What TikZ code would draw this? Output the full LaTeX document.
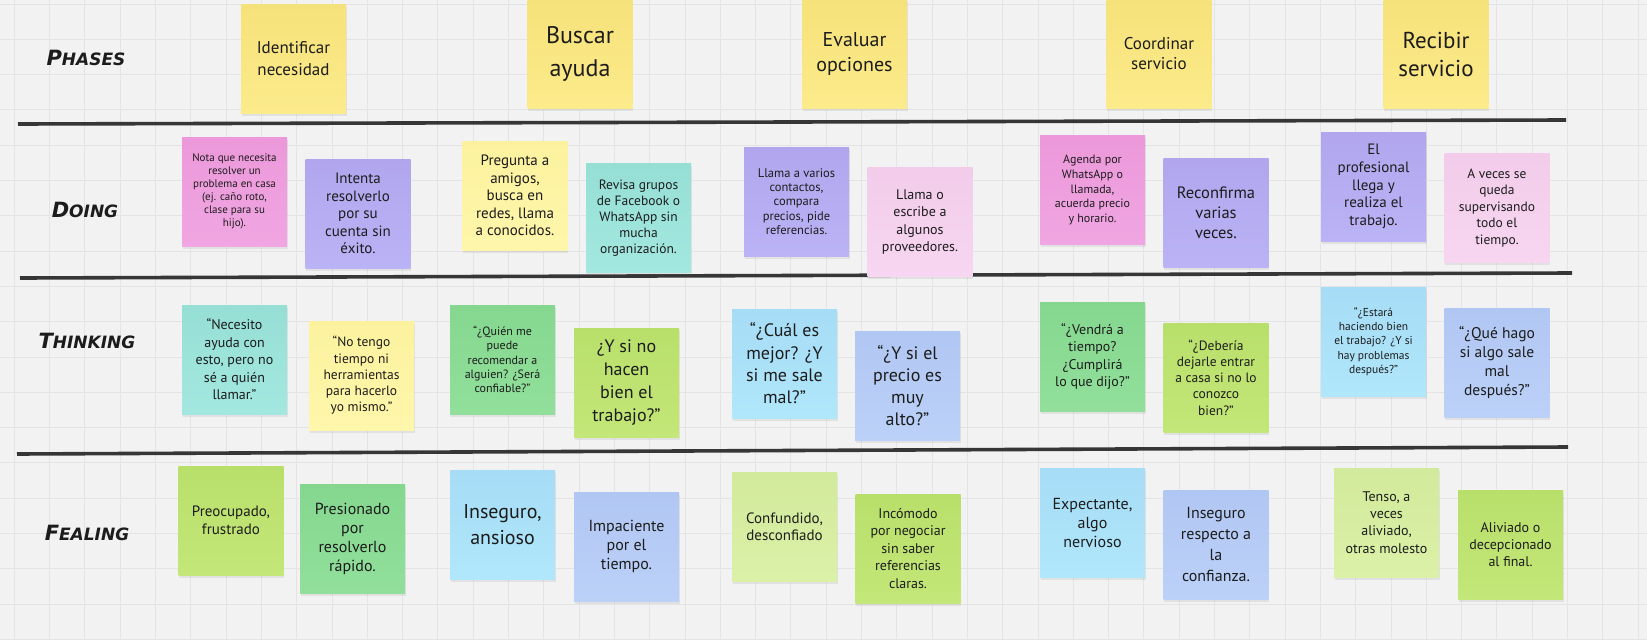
\documentclass[tikz,border=0pt]{standalone}
\usepackage{fontspec}
\setmainfont{PT Sans}
\newfontfamily\labelFont{DejaVu Sans}
\usetikzlibrary{shadows}

\definecolor{bgGray}{HTML}{F2F2F2}
\definecolor{gridGray}{HTML}{E4E4E4}
\definecolor{sepGray}{HTML}{363636}
\definecolor{inkDark}{HTML}{1C1C1C}
\definecolor{yellowTop}{HTML}{F6E27A}\definecolor{yellowBot}{HTML}{FCEB8B}
\definecolor{lightyellowTop}{HTML}{FCF29E}\definecolor{lightyellowBot}{HTML}{FEF6AB}
\definecolor{pinkTop}{HTML}{EC98DA}\definecolor{pinkBot}{HTML}{F0A6E2}
\definecolor{lightpinkTop}{HTML}{F2CCEA}\definecolor{lightpinkBot}{HTML}{F7D6F1}
\definecolor{purpleTop}{HTML}{B1A6EE}\definecolor{purpleBot}{HTML}{BAB3F5}
\definecolor{tealTop}{HTML}{96DFD5}\definecolor{tealBot}{HTML}{A3E8E0}
\definecolor{greenTop}{HTML}{85D78F}\definecolor{greenBot}{HTML}{91DF9B}
\definecolor{limeTop}{HTML}{B9DF6B}\definecolor{limeBot}{HTML}{C3E778}
\definecolor{palelimeTop}{HTML}{D2EA9B}\definecolor{palelimeBot}{HTML}{DBF1A8}
\definecolor{lightblueTop}{HTML}{A6DCF5}\definecolor{lightblueBot}{HTML}{B1E7FB}
\definecolor{blueTop}{HTML}{B1C7F3}\definecolor{blueBot}{HTML}{BBD1F8}

\tikzset{
    noteBox/.style={rectangle, minimum width=105pt, minimum height=109pt, inner sep=0pt, align=center, text=inkDark, drop shadow={shadow xshift=0.6pt, shadow yshift=-2.5pt, opacity=0.14}},
    rowLabel/.style={font=\labelFont\bfseries\itshape, text=inkDark, inner sep=0pt},
    sepLine/.style={draw=sepGray, line width=3.6pt},
    gridLine/.style={draw=gridGray, line width=0.9pt},
}
\newcommand{\drawNote}[6]{
    \node[noteBox, top color=#2Top, bottom color=#2Bot, font=\fontsize{#4}{#5}\selectfont] (#1) at (#3) {#6};
}
\newcommand{\rowName}[2]{{\fontsize{21}{21}\selectfont #1}{\fontsize{17}{17}\selectfont #2}}

\begin{document}
\begin{tikzpicture}[x=1pt, y=-1pt]

    \useasboundingbox (0,0) rectangle (1647,640);
    \fill[bgGray] (0,0) rectangle (1647,640);
    \foreach \i in {0,...,46} \draw[gridLine] (14.3+35.3*\i,0) -- (14.3+35.3*\i,640);
    \foreach \j in {0,...,18} \draw[gridLine] (0,4+35.3*\j) -- (1647,4+35.3*\j);

    % row separators
    \draw[sepLine] (18,124) -- (1566,120);
    \draw[sepLine] (20,278) -- (1572,273);
    \draw[sepLine] (17,454) -- (1568,447);

    % row labels
    \node[rowLabel] (lblPhases) at (86,58) {\rowName{P}{HASES}};
    \node[rowLabel] (lblDoing) at (85,210) {\rowName{D}{OING}};
    \node[rowLabel] (lblThinking) at (87,341) {\rowName{T}{HINKING}};
    \node[rowLabel] (lblFealing) at (87,533) {\rowName{F}{EALING}};

    % phases
    \drawNote{phIdent}{yellow}{293.5,58.5}{17}{22}{Identificar\\necesidad}
    \drawNote{phBuscar}{yellow}{580,54}{24}{33}{Buscar\\ayuda}
    \drawNote{phEval}{yellow}{854.5,54}{20}{25}{Evaluar\\opciones}
    \drawNote{phCoord}{yellow}{1159,54}{17}{20}{Coordinar\\servicio}
    \drawNote{phRecib}{yellow}{1436,54}{23}{28}{Recibir\\servicio}

    % doing
    \drawNote{doNota}{pink}{234.5,191.5}{11}{13}{Nota que necesita\\resolver un\\problema en casa\\(ej. caño roto,\\clase para su\\hijo).}
    \drawNote{doIntenta}{purple}{358,213.5}{15}{17.5}{Intenta\\resolverlo\\por su\\cuenta sin\\éxito.}
    \drawNote{doPregunta}{lightyellow}{515,195.5}{15}{17.5}{Pregunta a\\amigos,\\busca en\\redes, llama\\a conocidos.}
    \drawNote{doRevisa}{teal}{638.5,218}{13.5}{16}{Revisa grupos\\de Facebook o\\WhatsApp sin\\mucha\\organización.}
    \drawNote{doLlamaVarios}{purple}{796.5,201.5}{12.5}{14.3}{Llama a varios\\contactos,\\compara\\precios, pide\\referencias.}
    \drawNote{doLlamaO}{lightpink}{920,222}{14}{17.5}{Llama o\\escribe a\\algunos\\proveedores.}
    \drawNote{doAgenda}{pink}{1092.5,190}{12}{14.6}{Agenda por\\WhatsApp o\\llamada,\\acuerda precio\\y horario.}
    \drawNote{doReconf}{purple}{1216,212.5}{16.5}{20}{Reconfirma\\varias\\veces.}
    \drawNote{doProf}{purple}{1373.5,186.5}{15}{17.6}{El\\profesional\\llega y\\realiza el\\trabajo.}
    \drawNote{doSuperv}{lightpink}{1497,208}{13.5}{16.5}{A veces se\\queda\\supervisando\\todo el\\tiempo.}

    % thinking
    \drawNote{thNecesito}{teal}{234.5,359.5}{14}{17.5}{“Necesito\\ayuda con\\esto, pero no\\sé a quién\\llamar.”}
    \drawNote{thTiempo}{lightyellow}{361.5,375.5}{13.5}{16.3}{“No tengo\\tiempo ni\\herramientas\\para hacerlo\\yo mismo.”}
    \drawNote{thQuien}{green}{502.5,359.5}{12}{14.3}{“¿Quién me\\puede\\recomendar a\\alguien? ¿Será\\confiable?”}
    \drawNote{thHacen}{lime}{626.5,382.5}{18}{23.3}{¿Y si no\\hacen\\bien el\\trabajo?”}
    \drawNote{thCual}{lightblue}{784.5,363.5}{18}{22.3}{“¿Cuál es\\mejor? ¿Y\\si me sale\\mal?”}
    \drawNote{thPrecio}{blue}{907.5,386}{18}{22}{“¿Y si el\\precio es\\muy\\alto?”}
    \drawNote{thVendra}{green}{1092.5,356.5}{14}{17.6}{“¿Vendrá a\\tiempo?\\¿Cumplirá\\lo que dijo?”}
    \drawNote{thDeberia}{lime}{1216,377.5}{13.5}{16.3}{“¿Debería\\dejarle entrar\\a casa si no lo\\conozco\\bien?”}
    \drawNote{thEstara}{lightblue}{1373.5,341.5}{11.5}{14.3}{“¿Estará\\haciendo bien\\el trabajo? ¿Y si\\hay problemas\\después?”}
    \drawNote{thQueHago}{blue}{1497,363}{15.5}{19}{“¿Qué hago\\si algo sale\\mal\\después?”}

    % fealing
    \drawNote{fePreoc}{lime}{231,520.5}{15}{18.3}{Preocupado,\\frustrado}
    \drawNote{fePresion}{green}{352.5,538.5}{16}{19}{Presionado\\por\\resolverlo\\rápido.}
    \drawNote{feInseg}{lightblue}{502.5,524.5}{20}{26}{Inseguro,\\ansioso}
    \drawNote{feImpac}{blue}{626.5,546.5}{16}{18.7}{Impaciente\\por el\\tiempo.}
    \drawNote{feConf}{palelime}{784.5,526.5}{15}{16.7}{Confundido,\\desconfiado}
    \drawNote{feIncomodo}{lime}{908,548.5}{14}{17.5}{Incómodo\\por negociar\\sin saber\\referencias\\claras.}
    \drawNote{feExpect}{lightblue}{1092.5,522.5}{16}{19}{Expectante,\\algo\\nervioso}
    \drawNote{feInsegConf}{blue}{1216,544.5}{16}{21}{Inseguro\\respecto a\\la\\confianza.}
    \drawNote{feTenso}{palelime}{1386.5,522.5}{14}{17.3}{Tenso, a\\veces\\aliviado,\\otras molesto}
    \drawNote{feAliv}{lime}{1510.5,544.5}{14}{16.7}{Aliviado o\\decepcionado\\al final.}

\end{tikzpicture}
\end{document}
